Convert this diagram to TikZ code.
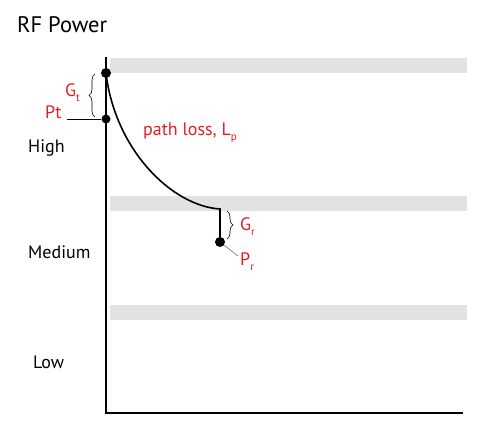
\documentclass[tikz,border=0pt]{standalone}
\usepackage{fontspec}
\setmainfont{PT Sans}
\usetikzlibrary{decorations.pathreplacing}
\definecolor{lblred}{RGB}{226,30,36}
\definecolor{bandgray}{RGB}{226,226,226}
\newcommand\sbs[1]{\raisebox{-5pt}{\fontsize{11}{12}\selectfont #1}}
\begin{document}
\begin{tikzpicture}[x=1pt,y=-1pt,
  dot/.style={circle,fill=black,inner sep=0pt,minimum size=10pt},
  lbl/.style={font=\fontsize{18}{20}\selectfont, inner sep=0pt, anchor=base west},
  redlbl/.style={lbl,text=lblred},
  axis/.style={line width=2pt},
  brc/.style={decorate,decoration={brace,amplitude=6pt},line width=0.6pt}]
\useasboundingbox (0,0) rectangle (478,427);
% bands
\fill[bandgray] (110,58) rectangle (467,73);
\fill[bandgray] (110,196) rectangle (467,211);
\fill[bandgray] (110,305) rectangle (467,320);
% axes
\coordinate (Ytop) at (106,57);
\coordinate (O) at (106,413);
\coordinate (Xend) at (463,413);
\draw[axis] (Ytop) -- (O) -- (Xend);
% points
\node[dot] (tx) at (106,73) {};
\node[dot, minimum size=9pt] (pt) at (106,119) {};
\coordinate (bend) at (220,209);
\node[dot] (pr) at (220,242) {};
\draw[line width=1.6pt] (tx.center) .. controls (115,150) and (172,206) .. (bend) -- (pr.center);
% Pt leader
\coordinate (ptl) at (67,119);
\draw[line width=0.7pt] (ptl) -- (pt);
% Pr leader
\coordinate (prl) at (238,256);
\draw[gray, line width=0.7pt] (pr) -- (prl);
% braces
\draw[brc] (95,117) -- (95,74);
\draw[brc] (227,211) -- (227,239);
% labels
\node[font=\fontsize{22.5}{26}\selectfont, inner sep=0pt, anchor=base west] (title) at (17,33) {RF Power};
\node[lbl] (high) at (28,153) {High};
\node[lbl] (medium) at (28,258) {Medium};
\node[lbl] (low) at (33,368) {Low};
\node[redlbl] (ptlab) at (45,119) {Pt};
\node[redlbl] (gt) at (65,97) {G\sbs{t}};
\node[redlbl] (gr) at (240,230) {G\sbs{r}};
\node[redlbl] (prlab) at (240,265) {P\sbs{r}};
\node[redlbl] (pl) at (143,136) {path loss, L\sbs{p}};
\end{tikzpicture}
\end{document}
